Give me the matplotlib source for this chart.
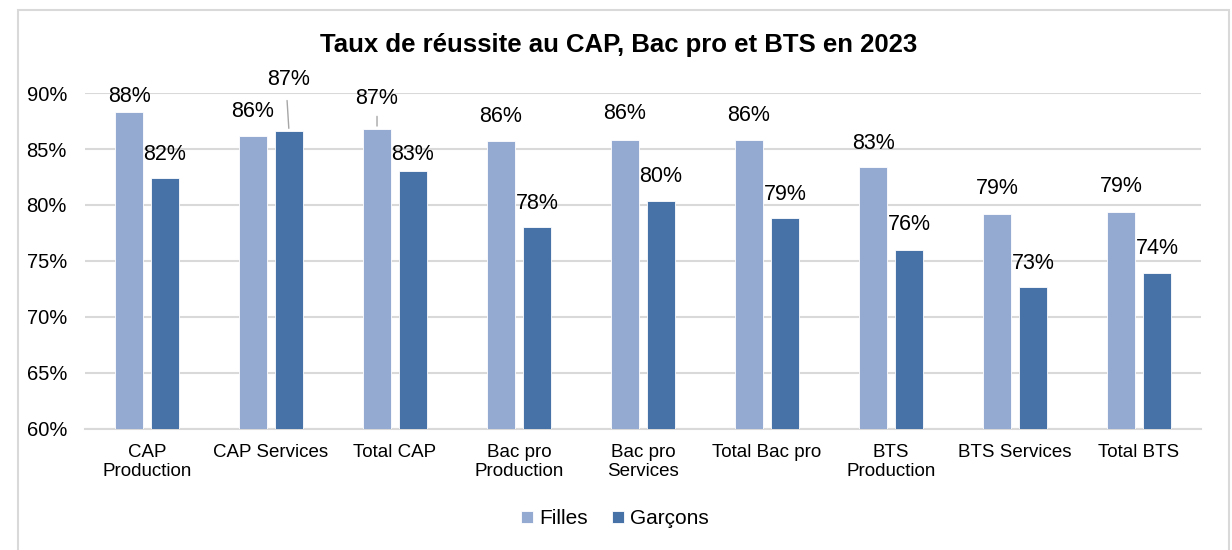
import numpy as np
import matplotlib
matplotlib.use("Agg")
import matplotlib.pyplot as plt
from matplotlib.patches import Rectangle
from matplotlib.ticker import FuncFormatter

plt.rcParams['font.family'] = ['Liberation Sans', 'DejaVu Sans']

# données
categories = ["CAP\nProduction", "CAP Services", "Total CAP", "Bac pro\nProduction",
              "Bac pro\nServices", "Total Bac pro", "BTS\nProduction", "BTS Services", "Total BTS"]
filles = [88.3, 86.2, 86.8, 85.7, 85.8, 85.8, 83.4, 79.2, 79.4]
garcons = [82.4, 86.6, 83.0, 78.0, 80.4, 78.8, 76.0, 72.7, 73.9]

c_filles = "#95aad0"
c_garcons = "#4672a7"
grid_c = "#d9d9d9"

fig = plt.figure(figsize=(12.32, 5.5), dpi=100)
ax = fig.add_axes([85/1232, 1-429/550, 1116/1232, 336/550])

# cadre du graphique
fig.patches.append(Rectangle((18/1232, -0.05), 1211/1232, 1.05-10/550,
                             transform=fig.transFigure, fill=False,
                             edgecolor=grid_c, lw=1.5))

x = np.arange(len(categories))
w = 0.22
ax.bar(x - 0.145, filles, w, color=c_filles, edgecolor="white", linewidth=0.6,
       label="Filles", zorder=3)
ax.bar(x + 0.145, garcons, w, color=c_garcons, edgecolor="white", linewidth=0.6,
       label="Garçons", zorder=3)

ax.set_ylim(60, 90)
ax.set_xlim(-0.5, len(categories) - 0.5)
ax.set_yticks(np.arange(60, 91, 5))
ax.yaxis.set_major_formatter(FuncFormatter(lambda v, p: f"{v:.0f}%"))
ax.grid(axis="y", color=grid_c, lw=1.5, zorder=0)
ax.set_axisbelow(True)
for s in ["top", "right", "left"]:
    ax.spines[s].set_visible(False)
ax.spines["bottom"].set_color(grid_c)
ax.spines["bottom"].set_linewidth(1.5)
ax.tick_params(axis="y", length=0, labelsize=14.5, colors="black", pad=13)
ax.tick_params(axis="x", length=0, labelsize=13.5, colors="black", pad=11)
ax.set_xticks(x)
ax.set_xticklabels(categories, linespacing=1.1)

# étiquettes de données (décalages en points)
off_f = [11, 17, 22, 18, 19, 18, 17, 18, 18]
off_g = [17, 37, 12, 17, 17, 17, 18, 17, 18]
for i in range(len(categories)):
    ax.annotate(f"{filles[i]:.0f}%", (x[i] - 0.145, filles[i]), xytext=(0, off_f[i]),
                textcoords="offset points", ha="center", va="center",
                fontsize=15.5, annotation_clip=False)
    ax.annotate(f"{garcons[i]:.0f}%", (x[i] + 0.145, garcons[i]), xytext=(0, off_g[i]),
                textcoords="offset points", ha="center", va="center",
                fontsize=15.5, annotation_clip=False)

# lignes de rappel
ax.annotate("", (x[1] + 0.145, garcons[1]), xytext=(-1.5, 24), textcoords="offset points",
            arrowprops=dict(arrowstyle="-", color="#a6a6a6", lw=1), annotation_clip=False)
ax.annotate("", (x[2] - 0.145, filles[2]), xytext=(0, 11), textcoords="offset points",
            arrowprops=dict(arrowstyle="-", color="#a6a6a6", lw=1), annotation_clip=False)

fig.text(619/1232, 1-45/550, "Taux de réussite au CAP, Bac pro et BTS en 2023",
         ha="center", va="center", fontsize=18.5, fontweight="bold")

fig.legend(loc="center", bbox_to_anchor=(615/1232, 1-519/550), ncol=2, frameon=False,
           fontsize=15, handlelength=0.55, handleheight=0.55, handletextpad=0.3,
           columnspacing=1.2)

fig.savefig("out.png", dpi=100)
